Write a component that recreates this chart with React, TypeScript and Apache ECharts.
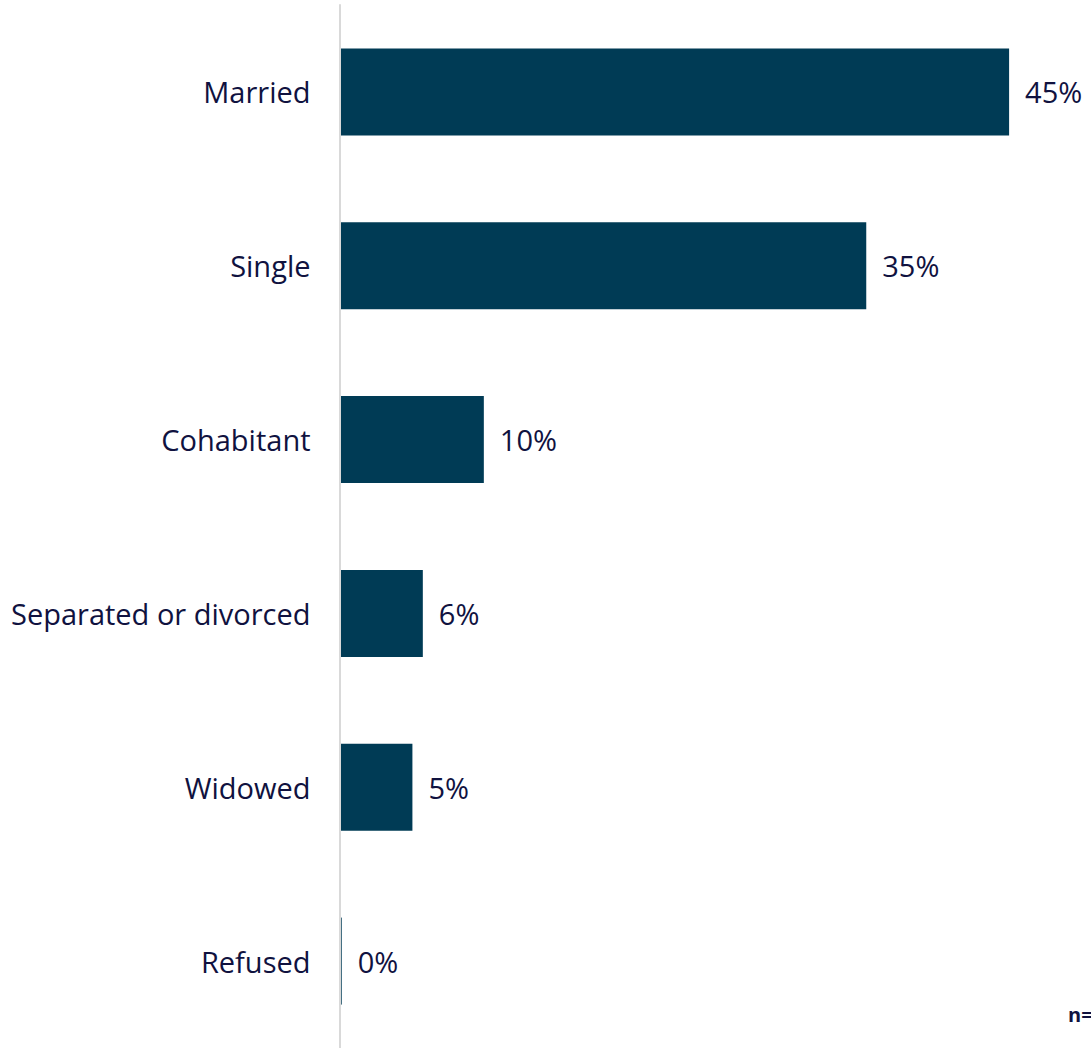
import React, { useEffect, useRef } from "react";
import * as echarts from "echarts";

const categories = ["Married", "Single", "Cohabitant", "Separated or divorced", "Widowed", "Refused"];
const values = [45.0, 35.4, 9.7, 5.6, 4.9, 0.15];
const footnote = "n=";

const FONT = "'Open Sans', sans-serif";
const TEXT = "#10123f";
const BAR = "#003b55";

export default function App() {
  const ref = useRef<HTMLDivElement>(null);
  useEffect(() => {
    if (!ref.current) return;
    const chart = echarts.init(ref.current, undefined, { renderer: "svg" });
    chart.setOption({
      animation: false,
      grid: { left: 339.5, top: 5, width: 744, height: 1048, containLabel: false },
      xAxis: {
        type: "value",
        min: 0,
        max: 50,
        show: false,
      },
      yAxis: {
        type: "category",
        inverse: true,
        data: categories,
        offset: 1,
        z: 5,
        axisLine: { show: true, lineStyle: { color: "#d9d9d9", width: 2 } },
        axisTick: { show: false },
        axisLabel: { color: TEXT, fontFamily: FONT, fontSize: 29, margin: 28 },
      },
      series: [
        {
          type: "bar",
          data: values,
          barWidth: 87,
          itemStyle: { color: BAR },
          label: {
            show: true,
            position: "right",
            distance: 16,
            color: TEXT,
            fontFamily: FONT,
            fontSize: 29,
            formatter: (p: any) => Math.round(p.value) + "%",
          },
        },
      ],
      graphic: [
        {
          type: "text",
          left: 1068,
          top: 1004,
          style: { text: footnote, fill: TEXT, font: `bold 20px ${FONT}` },
        },
      ],
    });
    return () => chart.dispose();
  }, []);
  return (
    <div
      ref={ref}
      style={{ position: "absolute", left: 0, top: 0, width: 1091, height: 1048, overflow: "hidden" }}
    />
  );
}
